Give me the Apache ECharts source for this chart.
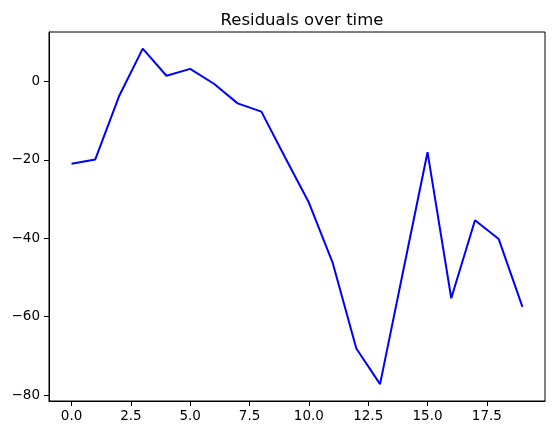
<!DOCTYPE html>
<html>
<head>
<meta charset="utf-8">
<script src="https://cdn.jsdelivr.net/npm/echarts@6/dist/echarts.min.js"></script>
<style>
  html, body { margin: 0; padding: 0; background: #fff; }
  #main { width: 554px; height: 435px; }
</style>
</head>
<body>
<div id="main"></div>
<script>
var steps = [0, 1, 2, 3, 4, 5, 6, 7, 8, 9, 10, 11, 12, 13, 14, 15, 16, 17, 18, 19];
var residuals = [-21.0, -19.9, -3.8, 8.35, 1.45, 3.2, -0.6, -5.6, -7.7, -19.4, -30.9, -46.2, -68.1, -77.2, -47.6, -18.05, -55.3, -35.4, -40.2, -57.5];
var xTicks = [0, 2.5, 5, 7.5, 10, 12.5, 15, 17.5];
var yTicks = [-80, -60, -40, -20, 0];

var myChart = echarts.init(document.getElementById('main'));

function minus(s) {
    return String(s).replace('-', '\u2212');
}

var points = steps.map(function (s, i) { return [s, residuals[i]]; });

option = {
    animation: false,
    title: {
        text: 'Residuals over time',
        left: 297,
        textAlign: 'center',
        top: 7,
        textStyle: {
            fontFamily: 'DejaVu Sans',
            fontSize: 16.5,
            fontWeight: 'normal',
            color: '#000'
        }
    },
    grid: {
        left: 49,
        right: 9,
        top: 32,
        bottom: 34,
        show: true,
        borderColor: '#000',
        borderWidth: 1
    },
    xAxis: {
        type: 'value',
        min: -0.95,
        max: 19.95,
        splitLine: { show: false },
        axisLine: { show: true, onZero: false, lineStyle: { color: '#000', width: 1 } },
        axisTick: {
            show: true,
            customValues: xTicks,
            length: 5,
            lineStyle: { color: '#000', width: 1 }
        },
        axisLabel: {
            customValues: xTicks,
            margin: 8,
            fontFamily: 'DejaVu Sans',
            fontSize: 13.5,
            color: '#000',
            formatter: function (v) { return minus(v.toFixed(1)); }
        }
    },
    yAxis: {
        type: 'value',
        min: -81.5,
        max: 12.6,
        splitLine: { show: false },
        axisLine: { show: true, onZero: false, lineStyle: { color: '#000', width: 1 } },
        axisTick: {
            show: true,
            customValues: yTicks,
            length: 5,
            lineStyle: { color: '#000', width: 1 }
        },
        axisLabel: {
            customValues: yTicks,
            margin: 9,
            fontFamily: 'DejaVu Sans',
            fontSize: 13.5,
            color: '#000',
            formatter: function (v) { return minus(v); }
        }
    },
    series: [
        {
            name: 'residuals',
            type: 'line',
            data: points,
            showSymbol: false,
            lineStyle: { color: '#0000ff', width: 2 },
            itemStyle: { color: '#0000ff' }
        }
    ]
};

myChart.setOption(option);
</script>
</body>
</html>
